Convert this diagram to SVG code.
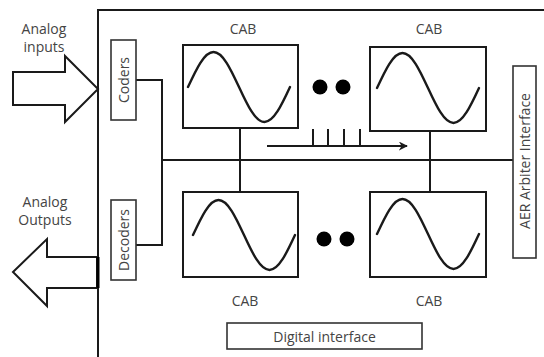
<svg xmlns="http://www.w3.org/2000/svg" width="544" height="357" viewBox="0 0 544 357">
<style>
.ln{fill:none;stroke:#1a1a1a;stroke-width:2}
.bx{fill:#fff;stroke:#1a1a1a;stroke-width:2}
.sb{fill:#fff;stroke:#333;stroke-width:1.6}
.sn{fill:none;stroke:#1a1a1a;stroke-width:2.4;stroke-linecap:round}
.t{font-family:"Open Sans","Liberation Sans",sans-serif;font-size:14px;fill:#444;text-anchor:middle}
.dot{fill:#000}
</style>
<defs>
<path id="sine" d="M0,0 c8.31,-17.93 16.27,-35 25.5,-35 s17.19,17.07 25.5,35 s16.27,35 25.5,35 s17.19,-17.07 25.5,-35"/>
<marker id="ah" viewBox="0 0 10 10" refX="9" refY="5" markerWidth="4.5" markerHeight="4.5" orient="auto" markerUnits="strokeWidth">
<path d="M0,0 L10,5 L0,10 L3,5 Z" fill="#1a1a1a"/>
</marker>
</defs>
<rect width="544" height="357" fill="#fff"/>
<g id="system-frame">
<path class="ln" d="M98,357 V10 H544"/>
</g>
<g id="analog-inputs">
<polygon class="bx" points="13,72 65,72 65,56 98,89 65,122 65,105 13,105"/>
<text class="t" x="44" y="34">Analog</text>
<text class="t" x="44" y="52">inputs</text>
</g>
<g id="analog-outputs">
<polygon class="bx" points="97,257 47,257 47,239 13,272 47,306 47,288 97,288"/>
<line x1="98" y1="257" x2="98" y2="288" stroke="#000" stroke-width="3"/>
<text class="t" x="45" y="207">Analog</text>
<text class="t" x="45" y="225">Outputs</text>
</g>
<g id="connectors">
<path class="ln" d="M136,80 H162 V245 H136"/>
<line class="ln" x1="162" y1="160" x2="513" y2="160"/>
<line class="ln" x1="240" y1="128" x2="240" y2="192"/>
<line class="ln" x1="430" y1="131" x2="430" y2="192"/>
<line class="ln" x1="267" y1="146" x2="407" y2="146" marker-end="url(#ah)"/>
<path class="ln" d="M313,129 V146 M328,129 V146 M344,129 V146 M360,129 V146"/>
</g>
<g id="coders">
<rect class="sb" x="111" y="40" width="25" height="80"/>
<text class="t" transform="translate(128.5,80) rotate(-90)">Coders</text>
</g>
<g id="decoders">
<rect class="sb" x="111" y="200" width="25" height="80"/>
<text class="t" transform="translate(128.5,240) rotate(-90)">Decoders</text>
</g>
<g id="cab-top-left">
<rect class="bx" x="183" y="45" width="115" height="83"/>
<use href="#sine" class="sn" x="188" y="87"/>
<text class="t" x="243" y="34">CAB</text>
</g>
<g id="cab-top-right">
<rect class="bx" x="370" y="47" width="116" height="84"/>
<use href="#sine" class="sn" x="377" y="88"/>
<text class="t" x="429" y="34">CAB</text>
</g>
<g id="cab-bottom-left">
<rect class="bx" x="183" y="192" width="115" height="85"/>
<use href="#sine" class="sn" x="193" y="235"/>
<text class="t" x="245" y="306">CAB</text>
</g>
<g id="cab-bottom-right">
<rect class="bx" x="370" y="192" width="116" height="85"/>
<use href="#sine" class="sn" x="377" y="234"/>
<text class="t" x="429" y="306">CAB</text>
</g>
<g id="dots-top">
<circle class="dot" cx="320" cy="87" r="7.5"/>
<circle class="dot" cx="343" cy="87" r="7.5"/>
</g>
<g id="dots-bottom">
<circle class="dot" cx="324" cy="239" r="7.5"/>
<circle class="dot" cx="347" cy="239" r="7.5"/>
</g>
<g id="aer-arbiter">
<rect class="sb" x="513" y="66" width="23" height="192"/>
<text class="t" transform="translate(529.5,161) rotate(-90)">AER Arbiter Interface</text>
</g>
<g id="digital-interface">
<rect class="sb" x="227" y="323" width="195" height="26"/>
<text class="t" x="324.5" y="341.5">Digital interface</text>
</g>
</svg>
